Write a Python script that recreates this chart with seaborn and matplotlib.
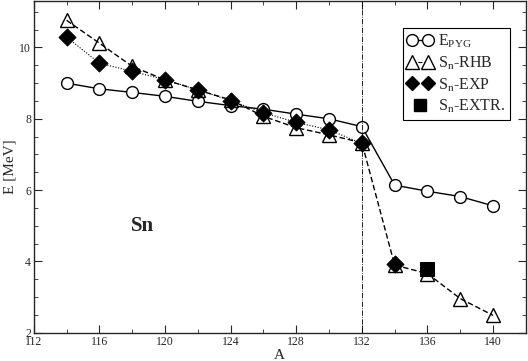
import matplotlib
matplotlib.use('Agg')
import matplotlib.pyplot as plt
import seaborn as sns
from matplotlib.lines import Line2D
from matplotlib.legend_handler import HandlerLine2D
from matplotlib.ticker import MultipleLocator

# data
a_pyg = [114, 116, 118, 120, 122, 124, 126, 128, 130, 132, 134, 136, 138, 140]
e_pyg = [9.0, 8.84, 8.74, 8.63, 8.49, 8.37, 8.27, 8.13, 8.0, 7.78, 6.14, 5.97, 5.82, 5.56]

a_rhb = [114, 116, 118, 120, 122, 124, 126, 128, 130, 132, 134, 136, 138, 140]
sn_rhb = [10.76, 10.12, 9.47, 9.09, 8.81, 8.53, 8.07, 7.75, 7.55, 7.33, 3.9, 3.66, 2.96, 2.49]

a_exp = [114, 116, 118, 120, 122, 124, 126, 128, 130, 132, 134]
sn_exp = [10.29, 9.56, 9.33, 9.1, 8.81, 8.51, 8.17, 7.9, 7.69, 7.31, 3.94]

a_extr = [136]
sn_extr = [3.78]

sns.set_style('ticks')
plt.rcParams['font.family'] = ['Liberation Serif', 'DejaVu Serif']
plt.rcParams['mathtext.fontset'] = 'custom'
plt.rcParams['mathtext.rm'] = 'Liberation Serif'

fig = plt.figure(figsize=(5.28, 3.61), dpi=100)
ax = fig.add_axes([0.064, 0.078, 0.932, 0.919])

ms = 8.5
sns.lineplot(x=a_pyg, y=e_pyg, ax=ax, color='black', lw=1, marker='o', ms=ms,
             mfc='white', mec='black', mew=1)
sns.lineplot(x=a_rhb, y=sn_rhb, ax=ax, color='black', lw=1, ls=(0, (4, 2)), marker='^',
             ms=ms + 1, mfc='none', mec='black', mew=1)
sns.lineplot(x=a_exp[:-1], y=sn_exp[:-1], ax=ax, color='black', lw=0.8, ls=(0, (1, 1.5)))
sns.scatterplot(x=a_exp, y=sn_exp, ax=ax, color='black', marker='D', s=75, edgecolor='black', zorder=4)
sns.scatterplot(x=a_extr, y=sn_extr, ax=ax, color='black', marker='s', s=90, edgecolor='black', zorder=4)

ax.axvline(132, color='black', lw=0.6, ls='-.')

ax.text(118.6, 5.0, 'Sn', fontsize=15, fontweight='bold', ha='center', va='center')

ax.set_xlim(112, 142)
ax.set_ylim(2, 11.3)
ax.xaxis.set_major_locator(MultipleLocator(4))
ax.xaxis.set_minor_locator(MultipleLocator(2))
ax.yaxis.set_major_locator(MultipleLocator(2))
ax.yaxis.set_minor_locator(MultipleLocator(0.5))
ax.tick_params(which='both', direction='in', top=True, right=True, labelsize=8.5, pad=2)
ax.tick_params(which='major', length=6)
ax.tick_params(which='minor', length=3)
for s in ax.spines.values():
    s.set_linewidth(1)

ax.set_xlabel('A', fontsize=11, labelpad=1)
ax.set_ylabel('E [MeV]', fontsize=11, labelpad=2)

h1 = Line2D([], [], color='black', lw=1, marker='o', ms=ms, mfc='white', mec='black')
h2 = Line2D([], [], color='black', lw=0.8, ls='--', marker='^', ms=ms + 1, mfc='white', mec='black')
h3 = Line2D([], [], color='black', lw=0.8, ls=':', marker='D', ms=7.5, mfc='black', mec='black')
h4 = Line2D([], [], color='black', ls='none', marker='s', ms=8.5, mfc='black', mec='black')
leg = ax.legend([h1, h2, h3, h4],
                ['E$_{\\mathrm{PYG}}$', 'S$_{\\mathrm{n}}$-RHB', 'S$_{\\mathrm{n}}$-EXP', 'S$_{\\mathrm{n}}$-EXTR.'],
                loc='upper right', bbox_to_anchor=(0.967, 0.92), numpoints=2,
                handler_map={h4: HandlerLine2D(numpoints=1)},
                fontsize=11.5, frameon=True, fancybox=False, framealpha=1, edgecolor='black',
                handlelength=1.6, handletextpad=0.3, borderpad=0.3, labelspacing=0.25,
                borderaxespad=0)
leg.get_frame().set_linewidth(0.8)

fig.savefig('out.png', dpi=100)
